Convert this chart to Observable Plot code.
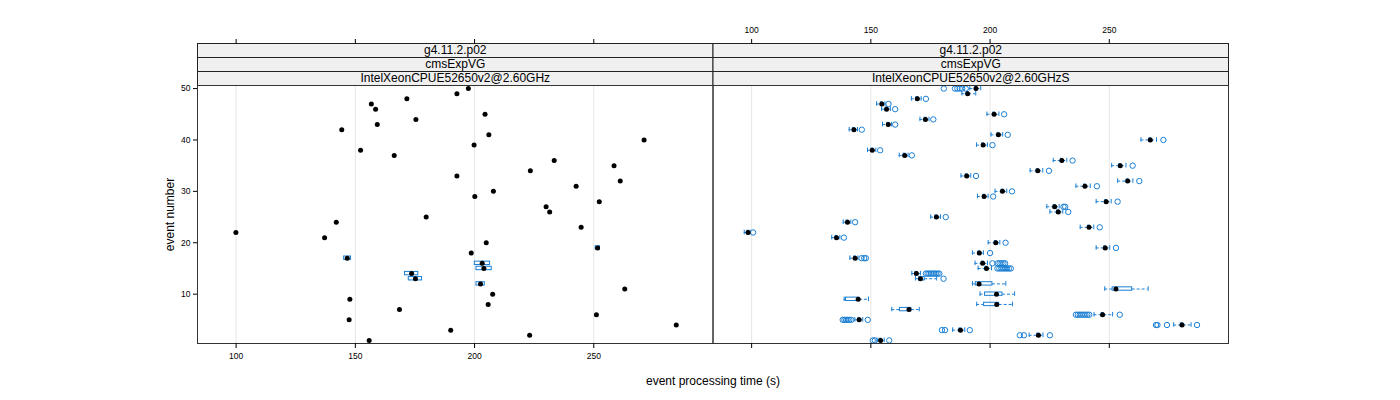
<!DOCTYPE html>
<html><head><meta charset="utf-8">
<script src="https://cdn.jsdelivr.net/npm/d3@7"></script>
<script src="https://cdn.jsdelivr.net/npm/@observablehq/plot@0.6"></script>
<style>body{margin:0;background:#fff} svg{display:block}</style>
</head><body><div id="chart"></div>
<script>
// ---- data ----
const panels = ["IntelXeonCPUE52650v2@2.60GHz", "IntelXeonCPUE52650v2@2.60GHzS"];
const stripVersion = "g4.11.2.p02";
const stripApp = "cmsExpVG";
const xTitle = "event processing time (s)";
const yTitle = "event number";
const xTicks = [100, 150, 200, 250];
const yTicks = [10, 20, 30, 40, 50];
const events = [1,2,3,4,5,6,7,8,9,10,11,12,13,14,15,16,17,18,19,20,21,22,23,24,25,
                26,27,28,29,30,31,32,33,34,35,36,37,38,39,40,41,42,43,44,45,46,47,48,49,50];

// left panel: medians per event
const leftMed = [155.8,223.1,190.0,284.6,147.4,251.1,168.5,205.7,147.7,207.6,
                 263.0,202.5,175.2,173.6,203.9,203.2,146.6,198.6,251.6,204.9,
                 137.1,99.9,244.7,142.0,179.7,231.5,230.0,252.3,200.1,207.9,
                 242.6,261.1,192.6,223.4,258.5,233.4,166.3,152.2,199.8,271.1,
                 206.0,144.3,159.2,175.4,204.4,158.5,156.7,171.6,192.6,197.4];
// left panel: visible boxes
const leftBoxEvents = [12, 13, 14, 15, 16, 17, 19];
const leftBoxQ1 = [200.8, 172.4, 170.8, 200.8, 200.1, 145.3, 250.8];
const leftBoxQ3 = [204.3, 178.0, 176.4, 207.2, 206.5, 148.2, 252.6];

// right panel: five-number summaries + outliers per event
const rLo  = [152.6,216.4,184.3,277.0,143.3,243.6,158.8,194.4,138.8,195.8,
              248.1,192.6,168.7,167.2,195.0,193.7,141.2,192.6,244.5,199.2,
              133.6,96.9,237.8,138.4,175.1,225.1,223.8,244.5,194.7,202.1,
              236.0,253.5,187.8,216.8,251.0,226.5,161.9,148.6,194.3,263.3,
              200.4,140.9,154.9,170.6,198.7,154.5,152.4,167.0,188.2,191.5];
const rQ1  = [153.7,219.8,187.1,280.0,144.7,246.8,162.2,197.5,139.6,197.9,
              251.4,194.0,170.3,168.7,198.1,196.5,143.0,195.1,247.9,202.0,
              135.2,98.2,241.1,139.8,177.1,228.2,226.7,248.3,197.1,204.8,
              239.4,257.3,189.8,219.6,254.2,229.7,163.8,150.2,196.7,266.8,
              203.1,142.5,156.9,172.5,201.3,156.2,154.2,169.1,190.2,193.7];
const rMed = [154.1,220.3,187.6,280.5,145.1,247.2,166.0,202.8,144.7,202.7,
              252.8,195.4,170.8,169.1,198.5,196.9,143.4,195.5,248.3,202.4,
              135.6,98.5,241.5,140.2,177.5,228.6,227.1,248.7,197.5,205.2,
              239.8,257.7,190.2,220.0,254.6,230.1,164.2,150.6,197.1,267.2,
              203.5,142.9,157.3,172.9,201.7,156.6,154.6,169.5,190.6,194.1];
const rQ3  = [154.6,220.8,188.1,281.0,145.5,247.7,167.0,203.8,145.2,205.2,
              259.6,201.0,172.6,169.6,199.0,197.4,143.8,195.9,248.7,202.8,
              136.0,98.9,241.9,140.6,177.9,229.0,227.5,249.1,197.9,205.6,
              240.2,258.1,190.6,220.4,255.0,230.5,164.6,151.0,197.5,267.6,
              203.9,143.3,157.7,173.3,202.1,157.0,155.0,169.9,191.0,194.5];
const rHi  = [155.6,222.2,189.4,284.3,146.6,251.4,170.3,209.4,149.0,210.3,
              266.3,206.6,177.6,170.8,200.6,198.9,144.6,197.2,250.2,204.1,
              137.0,99.4,243.5,141.6,179.2,230.5,229.0,250.8,199.2,207.0,
              242.0,259.9,191.9,222.1,257.0,232.2,165.6,152.1,198.9,269.8,
              205.3,144.4,158.7,174.4,203.7,158.2,155.9,171.1,194.0,196.1];
const rOut = [[150.8,151.7,157.7],[212.5,214.2,225.1],[179.8,181.1,191.5],[269.6,270.2,274.2,286.8],
              [138.2,138.9,139.6,140.3,141.0,141.8,148.7],
              [236.0,236.8,237.6,238.4,239.2,240.0,240.8,241.6,254.4],
              [],[],[],[],[],[],[180.5],
              [173.1,173.8,174.5,175.2,175.9,176.6,177.3,178.0,178.7],
              [203.1,203.9,204.7,205.5,206.3,207.1,207.9,208.7],
              [201.0,203.2,204.0,204.8,205.6,206.3],
              [146.1,147.2,147.9],[200.0],[252.8],[206.5],
              [138.7],[100.6],[246.0],[143.4],[181.4],[232.8],[230.8,231.5],[253.5],[201.3],[209.2],
              [244.8],[262.6],[194.1],[224.7],[259.8],[234.6],[167.2],[153.9],[201.0],[272.7],
              [207.4],[146.2],[160.2],[176.2],[205.9],[160.2],[157.4],[173.1],[],
              [180.6,185.3,186.3,187.3,188.3,189.8]];

// ---- tables for the library ----
const L = panels[0], R = panels[1];
const leftRows = events.map((e, i) => ({panel: L, ev: e, med: leftMed[i]}));
const leftBoxes = leftBoxEvents.map((e, i) => ({panel: L, ev: e, q1: leftBoxQ1[i], q3: leftBoxQ3[i]}));
const rightRows = events.map((e, i) => ({panel: R, ev: e, lo: rLo[i], q1: rQ1[i], med: rMed[i], q3: rQ3[i], hi: rHi[i]}));
const rightOut = events.flatMap((e, i) => rOut[i].map(v => ({panel: R, ev: e, x: v})));
const stripRows = panels.map(p => ({panel: p}));

const BLUE = "#1a7fd4";
const H = 400 - 85 - 57; // panel height in px

const chart = Plot.plot({
  width: 1400, height: 400,
  marginLeft: 197, marginRight: 172, marginTop: 85, marginBottom: 57,
  style: {fontFamily: "'Liberation Sans', Arial, sans-serif", fontSize: "12px", background: "#fff", color: "#000"},
  fx: {domain: panels, padding: 0, axis: null, round: false, label: null},
  x: {domain: [83.8, 300], label: null},
  y: {type: "band", domain: events.slice().reverse(), paddingInner: 0.5, paddingOuter: 0.35, align: 0.5, round: false, label: null},
  marks: [
    // strips
    Plot.frame({fill: "#f0f0f0", stroke: "#222", insetTop: -42, insetBottom: H + 28}),
    Plot.frame({fill: "#f0f0f0", stroke: "#222", insetTop: -28, insetBottom: H + 14}),
    Plot.frame({fill: "#f0f0f0", stroke: "#222", insetTop: -14, insetBottom: H}),
    Plot.text(stripRows, {fx: "panel", text: () => stripVersion, frameAnchor: "top", lineAnchor: "middle", dy: -35, fontSize: 12}),
    Plot.text(stripRows, {fx: "panel", text: () => stripApp, frameAnchor: "top", lineAnchor: "middle", dy: -21, fontSize: 12}),
    Plot.text(stripRows, {fx: "panel", text: d => d.panel, frameAnchor: "top", lineAnchor: "middle", dy: -7, fontSize: 12}),
    // grid
    Plot.ruleX(xTicks, {stroke: "#e6e6e6"}),
    // left panel boxes and medians
    Plot.barX(leftBoxes, {fx: "panel", y: "ev", x1: "q1", x2: "q3", fill: "none", stroke: BLUE, insetTop: -0.4, insetBottom: -0.4}),
    // right panel whiskers
    Plot.ruleY(rightRows, {fx: "panel", y: "ev", x1: "lo", x2: "q1", stroke: BLUE, strokeDasharray: "3,2"}),
    Plot.ruleY(rightRows, {fx: "panel", y: "ev", x1: "q3", x2: "hi", stroke: BLUE, strokeDasharray: "3,2"}),
    Plot.tickX(rightRows, {fx: "panel", y: "ev", x: "lo", stroke: BLUE, insetTop: -1, insetBottom: -1}),
    Plot.tickX(rightRows, {fx: "panel", y: "ev", x: "hi", stroke: BLUE, insetTop: -1, insetBottom: -1}),
    Plot.barX(rightRows, {fx: "panel", y: "ev", x1: "q1", x2: "q3", fill: "none", stroke: BLUE, insetTop: -0.4, insetBottom: -0.4}),
    Plot.dot(rightOut, {fx: "panel", y: "ev", x: "x", r: 2.7, stroke: BLUE, fill: "none", strokeWidth: 1}),
    Plot.dot(rightRows, {fx: "panel", y: "ev", x: "med", r: 2.5, fill: "#000"}),
    Plot.dot(leftRows, {fx: "panel", y: "ev", x: "med", r: 2.5, fill: "#000"}),
    // panel frame
    Plot.frame({stroke: "#333"}),
    // axes
    Plot.axisX(xTicks, {anchor: "bottom", facetAnchor: "left", tickSize: 5, tickPadding: 4, fontSize: 8.5, label: null}),
    Plot.axisX(xTicks, {anchor: "bottom", facetAnchor: "right", tickSize: 5, tickFormat: () => "", label: null}),
    Plot.axisX(xTicks, {anchor: "top", facetAnchor: "right", dy: -42, tickSize: 5, tickPadding: 6, fontSize: 8.5, label: null}),
    Plot.axisX(xTicks, {anchor: "top", facetAnchor: "left", dy: -42, tickSize: 5, tickFormat: () => "", label: null}),
    Plot.axisY(yTicks, {anchor: "left", tickSize: 4, tickPadding: 3, fontSize: 8.5, label: null}),
    // axis titles
    Plot.text([{panel: L}], {fx: "panel", text: () => xTitle, frameAnchor: "bottom-right", textAnchor: "middle", lineAnchor: "middle", dy: 38, fontSize: 12}),
    Plot.text([{panel: L}], {fx: "panel", text: () => yTitle, frameAnchor: "left", textAnchor: "middle", lineAnchor: "middle", dx: -27, rotate: -90, fontSize: 12})
  ]
});
document.getElementById("chart").appendChild(chart);
</script>
</body></html>
